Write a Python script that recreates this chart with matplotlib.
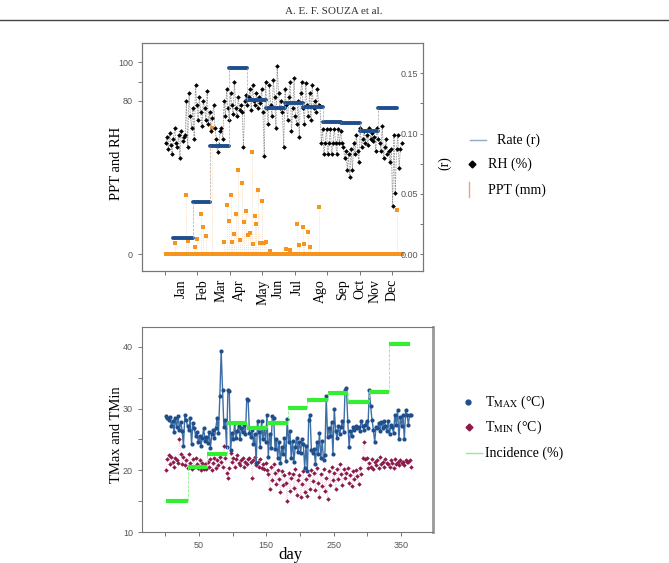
import numpy as np
import matplotlib.pyplot as plt
from matplotlib.lines import Line2D
from matplotlib.transforms import blended_transform_factory

plt.rcParams['font.family'] = ['Liberation Serif', 'DejaVu Serif']
plt.rcParams['mathtext.fontset'] = 'stix'

# ---- data ----
months = ["Jan", "Feb", "Mar", "Apr", "May", "Jun", "Jul", "Ago", "Sep", "Oct", "Nov", "Dec"]
month_pos = [25.7, 58, 86.3, 114.5, 151.5, 174.6, 203.9, 240, 273.9, 300.6, 324.2, 350.4]

days = np.arange(1, 366, 2)

rh = [58, 61, 55, 63, 57, 52, 60, 66, 58, 56, 62, 50, 64, 59, 61,
      62, 80, 56, 84, 72, 66, 76, 60, 88, 78, 70, 82, 74, 67, 80,
      76, 70, 85, 68, 74, 64, 71, 78, 66, 60, 53, 57, 64, 66, 60,
      80, 72, 86, 76, 70, 84, 78, 73, 90, 76, 72, 82, 75, 78, 74,
      56, 80, 83, 78, 82, 86, 75, 88, 80, 78, 84, 76, 82, 79, 86,
      74, 51, 90, 76, 68, 88, 78, 72, 91, 82, 66, 98, 84, 76, 80,
      74, 56, 86, 78, 70, 82, 90, 64, 76, 92, 72, 68, 80, 61, 84,
      90, 76, 68, 89, 78, 72, 84, 70, 88, 76, 80, 74, 86, 78, 77,
      58, 65, 52, 58, 65, 52, 58, 65, 52, 58, 65, 58, 52, 65, 58,
      64, 58, 56, 50, 54, 44, 52, 40, 55, 44, 58, 52, 62, 54, 48,
      66, 56, 60, 64, 58, 62, 57, 66, 60, 63, 59, 61, 54, 66, 60,
      58, 54, 67, 50, 56, 60, 52, 54, 48, 55, 25, 62, 32, 55, 62,
      45, 55, 58]

ppt_days = [16, 32, 35, 46, 50, 55, 59, 63, 72, 91, 95, 98, 101, 104, 107, 110,
            113, 116, 119, 122, 125, 128, 131, 134, 136, 139, 141, 143, 147, 150,
            153, 155, 162, 186, 192, 203, 207, 212, 214, 220, 223, 237, 357]
ppt_mm = [6, 31, 7, 3.5, 7.7, 21, 14, 9.4, 65.6, 6.4, 25.6, 17.4, 30.8, 6.4, 10.4, 21,
          43.8, 7.3, 36.9, 16.9, 22.6, 9.9, 11, 53.4, 5.2, 20, 15.7, 33.4, 5.6, 27.8,
          6, 6.4, 1.7, 2.4, 2, 15.7, 4.7, 13.9, 5.2, 11.7, 3.8, 24.7, 23]

rate_edges = [13, 43, 70, 98, 127, 156, 185, 213.5, 243, 271, 300, 328.5, 357]
rate = [0.0136, 0.0432, 0.090, 0.1544, 0.1279, 0.121, 0.1257, 0.1218, 0.1093, 0.1085, 0.1019, 0.121]

tmax = [28.8, 28.5, 28.2, 28.6, 27.2, 28.0, 26.2, 28.4, 27.0, 28.8, 26.6, 27.8, 26.4, 24.0, 28.9,
        28.2, 27.1, 26.5, 28.4, 24.2, 27.6, 26.8, 25.6, 26.2, 24.6, 25.5, 24.0, 25.2, 26.8, 24.8,
        25.4, 24.4, 26.2, 23.6, 25.8, 26.6, 25.2, 26.8, 28.4, 26.0, 32.0, 39.3, 33.0, 27.0, 28.2,
        23.8, 33.0, 32.9, 23.2, 26.0, 25.0, 27.6, 25.2, 26.4, 27.2, 25.0, 26.8, 26.2, 27.4, 25.8,
        31.6, 31.4, 26.0, 25.4, 26.6, 24.2, 25.8, 21.2, 28.0, 26.2, 23.8, 28.0, 25.0, 26.8, 24.6,
        29.0, 22.2, 25.8, 23.6, 28.8, 28.5, 23.4, 25.0, 22.0, 24.6, 21.2, 23.8, 22.6, 25.2, 21.5,
        28.3, 24.6, 26.4, 22.0, 24.8, 21.4, 23.8, 25.2, 23.0, 24.6, 22.8, 25.0, 24.2, 20.4, 24.0,
        19.8, 28.2, 29.0, 23.2, 22.8, 23.4, 21.0, 24.6, 22.6, 26.0, 22.0, 24.8, 21.6, 22.4, 32.0,
        25.4, 26.8, 25.6, 27.8, 22.6, 30.0, 26.4, 25.2, 27.2, 25.8, 27.0, 28.0, 26.2, 33.0, 33.3,
        28.0, 23.8, 26.4, 25.6, 27.0, 26.6, 27.2, 26.8, 27.0, 26.4, 28.0, 27.2, 26.6, 27.4, 28.0,
        26.8, 33.0, 30.4, 28.2, 26.6, 24.6, 27.0, 26.8, 27.6, 26.4, 27.8, 26.9, 28.0, 27.2, 26.4,
        28.0, 25.8, 27.4, 27.0, 26.0, 29.0, 27.4, 29.8, 25.0, 28.6, 27.2, 29.0, 25.0, 29.8, 29.0,
        27.4, 29.0, 29.0]

tmin = [20.0, 21.8, 22.4, 21.0, 22.2, 21.4, 20.6, 22.0, 21.6, 21.2, 25.0, 22.6, 21.0, 22.2, 20.8,
        21.6, 20.4, 22.6, 21.2, 20.2, 21.8, 20.6, 22.0, 21.0, 20.4, 21.6, 20.0, 21.2, 20.2, 21.0,
        20.2, 21.4, 20.6, 21.8, 20.0, 21.2, 22.0, 20.4, 21.6, 20.8, 22.2, 21.4, 20.6, 24.0, 22.0,
        19.6, 18.8, 20.4, 22.8, 21.4, 22.0, 20.6, 21.8, 22.4, 21.2, 20.8, 21.6, 22.0, 20.6, 21.4,
        21.0, 21.8, 22.0, 21.4, 18.8, 21.6, 22.2, 20.8, 21.4, 20.6, 21.8, 20.4, 21.0, 20.2, 21.2,
        20.0, 19.4, 17.0, 20.6, 18.4, 21.0, 19.6, 17.8, 20.0, 18.6, 16.4, 19.8, 17.6, 19.2, 18.0,
        15.0, 19.6, 16.6, 18.8, 19.4, 17.2, 20.2, 16.0, 18.4, 19.2, 15.6, 17.8, 19.8, 16.4, 18.6,
        15.8, 19.2, 17.0, 20.0, 18.2, 19.6, 16.8, 20.4, 18.0, 15.6, 19.4, 17.4, 20.2, 16.6, 18.8,
        15.3, 19.8, 17.6, 20.6, 18.4, 19.6, 17.0, 20.2, 18.6, 21.0, 19.4, 17.6, 20.2, 18.8, 19.6,
        20.4, 18.0, 19.2, 17.4, 19.8, 18.6, 20.0, 19.0, 17.8, 20.4, 19.4, 22.0, 24.5, 21.8, 22.0,
        20.4, 21.2, 20.6, 21.8, 20.2, 21.4, 20.8, 21.6, 20.4, 22.2, 21.0, 21.4, 20.6, 21.8, 21.2,
        21.0, 20.6, 21.6, 21.2, 20.4, 21.8, 21.0, 21.4, 20.8, 21.6, 21.2, 21.4, 20.8, 21.6, 21.4,
        21.4, 21.6, 20.6]

inc_edges = [1, 33, 62, 91.5, 121, 151, 182, 211, 241, 271, 302, 332, 363]
incidence = [15.0, 20.45, 22.7, 27.6, 26.9, 27.7, 30.1, 31.4, 32.5, 31.1, 32.7, 40.5]

# ---- figure ----
W, H = 669, 563


def fx(px):
    return px / W


def fy(py):
    return 1 - py / H


fig = plt.figure(figsize=(W / 100, H / 100), dpi=100)

fig.text(fx(334), fy(12), "A. E. F. SOUZA et al.", ha='center', va='center', fontsize=8, color='#333')
fig.add_artist(Line2D([0, 1], [fy(19.5), fy(19.5)], transform=fig.transFigure, color='#444', lw=1))

spine_col = '#777'
tick_kw = dict(labelsize=6.5, labelcolor='#555', colors='#777', labelfontfamily='Liberation Sans')

# top panel: PPT, RH and rate
ax = fig.add_axes([fx(142), fy(271), (423 - 142) / W, (271 - 43) / H])

ppt_daily = np.zeros(365)
ppt_daily[np.array(ppt_days) - 1] = ppt_mm
ax.vlines(ppt_days, 0, ppt_mm, color='#fbd0a8', lw=0.6, linestyles=':')
ax.plot(ppt_days, ppt_mm, 'o', ms=1.3, color='#f7a040', mew=0)
ax.plot(np.arange(1, 366), ppt_daily, 's', ms=2.2, color='#f7941d', mew=0)

ax.plot(days, rh, color='#999', lw=0.6, ls=(0, (2, 1.2)))
ax.plot(days, rh, 'D', color='black', ms=2.4, mew=0)

ax.set_xlim(-35.5, 397.8)
ax.set_ylim(-8.87, 110.1)
ax.set_yticks([0, 80, 100])
ax.set_yticks([90], minor=True)
ax.set_xticks(range(0, 351, 50))
ax.set_xticklabels([])
ax.tick_params(which='both', length=3, width=0.7, **tick_kw)
for s in ax.spines.values():
    s.set_color(spine_col)
    s.set_linewidth(0.8)

trans = blended_transform_factory(ax.transData, ax.transAxes)
for m, p in zip(months, month_pos):
    ax.text(p, -0.036, m, transform=trans, rotation=90, ha='center', va='top', fontsize=10)

ax2 = ax.twinx()
for i, r in enumerate(rate):
    ax2.plot([rate_edges[i], rate_edges[i + 1]], [r, r], color='#1f4e8c', lw=2.8, solid_capstyle='round')
ax2.vlines(rate_edges[1:-1], rate[:-1], rate[1:], color='#aaa', lw=0.5, linestyles='--')
ax2.set_ylim(-0.0141, 0.1752)
ax2.set_yticks([0, 0.05, 0.10, 0.15])
ax2.set_yticklabels(['0.00', '0.05', '0.10', '0.15'])
ax2.set_yticks([0.025, 0.075, 0.125, 0.175], minor=True)
ax2.tick_params(axis='y', which='both', direction='in', pad=-3.5, length=2.5, width=0.7, **tick_kw)
for lbl in ax2.get_yticklabels():
    lbl.set_ha('right')
for s in ax2.spines.values():
    s.set_color(spine_col)
    s.set_linewidth(0.8)

fig.text(fx(117), fy(163), "PPT and RH", rotation=90, ha='center', va='center', fontsize=10.5)
fig.text(fx(445), fy(163), "(r)", rotation=90, ha='center', va='center', fontsize=10)

# top legend
fig.add_artist(Line2D([fx(470), fx(486)], [fy(140), fy(140)], transform=fig.transFigure, color='#8fa8c8', lw=1))
fig.text(fx(497), fy(140), "Rate (r)", va='center', fontsize=10)
fig.add_artist(Line2D([fx(472)], [fy(164)], transform=fig.transFigure, marker='D', ms=3.5, color='black', ls='none'))
fig.text(fx(488), fy(164), "RH (%)", va='center', fontsize=10)
fig.add_artist(Line2D([fx(469), fx(469)], [fy(182), fy(197)], transform=fig.transFigure, color='#f0a080', lw=1))
fig.text(fx(488), fy(190), "PPT (mm)", va='center', fontsize=10)

# bottom panel: temperatures and incidence
bx = fig.add_axes([fx(142), fy(532), (433 - 142) / W, (532 - 327) / H])

bx.plot(days, tmin, color='#eab8d0', lw=0.5, ls=':')
bx.plot(days, tmin, 'D', color='#8b1a4a', ms=2.3, mew=0)
bx.plot(days, tmax, color='#3d6fa6', lw=1.0)
bx.plot(days, tmax, 'o', color='#1f4e8c', ms=3, mew=0)

for i, v in enumerate(incidence):
    bx.plot([inc_edges[i], inc_edges[i + 1]], [v, v], color='#33ee33', lw=3, solid_capstyle='butt')
bx.vlines(inc_edges[1:-1], incidence[:-1], incidence[1:], color='#88ee88', lw=0.6, linestyles='--')

bx.set_xlim(-34.6, 397.6)
bx.set_ylim(10, 43.2)
bx.set_xticks([50, 150, 250, 350])
bx.set_xticks([0, 100, 200, 300], minor=True)
bx.set_yticks([10, 20, 30, 40])
bx.set_yticks([15, 25, 35], minor=True)
bx.tick_params(which='both', length=3, width=0.7, **tick_kw)
for s in bx.spines.values():
    s.set_color(spine_col)
    s.set_linewidth(0.8)
bx.spines['right'].set_linewidth(2)
bx.spines['right'].set_color('#999')

fig.text(fx(117), fy(435), "TMax and TMin", rotation=90, ha='center', va='center', fontsize=10.5)
fig.text(fx(290), fy(555), "day", ha='center', va='center', fontsize=12)

# bottom legend
fig.add_artist(Line2D([fx(468)], [fy(402)], transform=fig.transFigure, marker='o', ms=3.5, color='#1f4e8c', ls='none'))
fig.text(fx(485), fy(402), r"T$_{\mathrm{MAX}}$ (°C)", va='center', fontsize=10)
fig.add_artist(Line2D([fx(469)], [fy(427)], transform=fig.transFigure, marker='D', ms=3.5, color='#8b1a4a', ls='none'))
fig.text(fx(485), fy(427), r"T$_{\mathrm{MIN}}$ (°C)", va='center', fontsize=10)
fig.add_artist(Line2D([fx(466), fx(482)], [fy(453), fy(453)], transform=fig.transFigure, color='#90ee90', lw=1))
fig.text(fx(485), fy(453), "Incidence (%)", va='center', fontsize=10)

fig.savefig("out.png", dpi=100)
